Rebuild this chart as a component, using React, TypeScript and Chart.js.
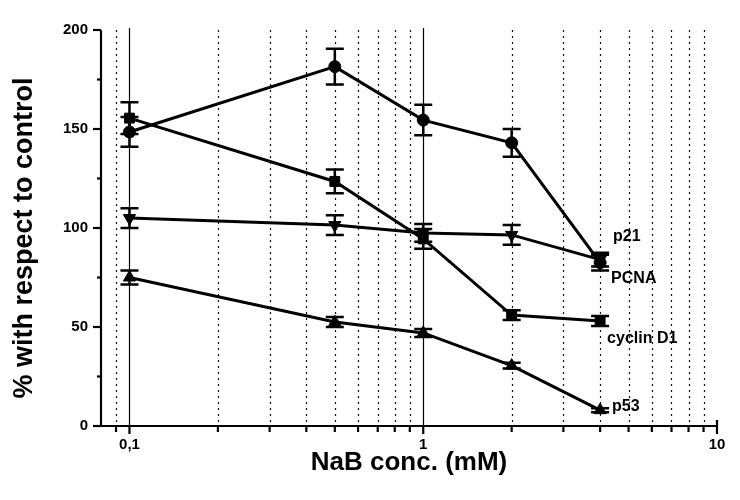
import React, { useEffect, useRef } from 'react';
import { Chart, registerables } from 'chart.js';

Chart.register(...registerables);

// ---- data ----
const concentrations = [0.1, 0.5, 1, 2, 4];

const pcnaValues = [148.5, 181.5, 154.5, 143, 82.5];
const pcnaErrors = [7.5, 9, 7.7, 7, 4];

const p21Values = [105, 101.5, 97.5, 96.5, 84];
const p21Errors = [5, 5, 4.5, 5, 3.5];

const cyclinValues = [155.5, 123.5, 94.5, 56, 53];
const cyclinErrors = [8, 6, 5, 2.5, 2.5];

const p53Values = [75, 52.5, 47, 30.5, 8];
const p53Errors = [3.5, 2.5, 2, 1.5, 1];

const seriesLabels = ['p21', 'PCNA', 'cyclin D1', 'p53'];
const seriesLabelY = [95.5, 74.7, 43.9, 9.6];
const seriesLabelX = 4;

const xTickValues = [0.09, 0.1, 0.2, 0.3, 0.4, 0.5, 0.6, 0.7, 0.8, 0.9, 1, 2, 3, 4, 5, 6, 7, 8, 9, 10];
const xSolidGrid = [0.1, 1];
const xLabelValues = [0.1, 1, 10];
const xLabelTexts = ['0,1', '1', '10'];

const yTickValues = [0, 25, 50, 75, 100, 125, 150, 175, 200];
const yLabelValues = [0, 50, 100, 150, 200];

const FONT = '"Liberation Sans", Arial, Helvetica, sans-serif';

const errorsByDataset = [pcnaErrors, p21Errors, cyclinErrors, p53Errors];

const gridPlugin = {
  id: 'customGrid',
  beforeDatasetsDraw(chart: any) {
    const { ctx, chartArea, scales } = chart;
    const xs = scales.x;
    ctx.save();
    xTickValues.forEach((v) => {
      if (v >= 10) return;
      const px = Math.round(xs.getPixelForValue(v)) + 0.5;
      ctx.beginPath();
      if (xSolidGrid.includes(v)) {
        ctx.setLineDash([]);
        ctx.strokeStyle = '#000';
        ctx.lineWidth = 1.2;
        ctx.moveTo(px, chartArea.top - 2);
      } else {
        ctx.setLineDash([2, 4]);
        ctx.strokeStyle = '#111';
        ctx.lineWidth = 1.2;
        ctx.moveTo(px, chartArea.top);
      }
      ctx.lineTo(px, chartArea.bottom);
      ctx.stroke();
    });
    ctx.restore();
  },
};

const errorBarPlugin = {
  id: 'errorBars',
  afterDatasetsDraw(chart: any) {
    const { ctx, scales } = chart;
    const ys = scales.y;
    ctx.save();
    ctx.strokeStyle = '#000';
    ctx.lineWidth = 2.5;
    chart.data.datasets.forEach((ds: any, i: number) => {
      const meta = chart.getDatasetMeta(i);
      const errs = errorsByDataset[i];
      meta.data.forEach((pt: any, j: number) => {
        const v = ds.data[j].y;
        const e = errs[j];
        const yt = ys.getPixelForValue(v + e);
        const yb = ys.getPixelForValue(v - e);
        const x = pt.x;
        ctx.beginPath();
        ctx.moveTo(x, yt);
        ctx.lineTo(x, yb);
        ctx.moveTo(x - 9, yt);
        ctx.lineTo(x + 9, yt);
        ctx.moveTo(x - 9, yb);
        ctx.lineTo(x + 9, yb);
        ctx.stroke();
      });
    });
    ctx.restore();
  },
};

const decorPlugin = {
  id: 'decor',
  afterDraw(chart: any) {
    const { ctx, chartArea, scales } = chart;
    const xs = scales.x;
    const ys = scales.y;
    ctx.save();
    ctx.strokeStyle = '#000';
    ctx.lineWidth = 2.2;
    // axis lines
    ctx.beginPath();
    ctx.moveTo(chartArea.left, chartArea.top);
    ctx.lineTo(chartArea.left, chartArea.bottom);
    ctx.lineTo(xs.getPixelForValue(10), chartArea.bottom);
    ctx.stroke();
    // x tick marks
    xTickValues.forEach((v) => {
      const px = xs.getPixelForValue(v);
      const major = xLabelValues.includes(v);
      ctx.beginPath();
      ctx.moveTo(px, chartArea.bottom - (v === 10 ? 6 : 0));
      ctx.lineTo(px, chartArea.bottom + (major ? 8 : 6));
      ctx.stroke();
    });
    // y tick marks
    yTickValues.forEach((v) => {
      const py = ys.getPixelForValue(v);
      const major = yLabelValues.includes(v);
      ctx.beginPath();
      ctx.moveTo(chartArea.left - (major ? 8 : 4), py);
      ctx.lineTo(chartArea.left, py);
      ctx.stroke();
    });
    // series labels
    ctx.fillStyle = '#000';
    ctx.font = `bold 16px ${FONT}`;
    ctx.textAlign = 'left';
    ctx.textBaseline = 'middle';
    const lx = xs.getPixelForValue(seriesLabelX);
    const offsets = [13, 11, 7, 12];
    seriesLabels.forEach((t, i) => {
      ctx.fillText(t, lx + offsets[i], ys.getPixelForValue(seriesLabelY[i]));
    });
    // axis titles
    ctx.font = `bold 26px ${FONT}`;
    ctx.textAlign = 'center';
    ctx.fillText('NaB conc. (mM)', (chartArea.left + chartArea.right) / 2, 463);
    ctx.translate(25, 238);
    ctx.rotate(-Math.PI / 2);
    ctx.font = `bold 27px ${FONT}`;
    ctx.fillText('% with respect to control', 0, 0);
    ctx.restore();
  },
};

function makeDataset(values: number[], style: string, radius: number, rotation = 0) {
  return {
    data: concentrations.map((x, i) => ({ x, y: values[i] })),
    borderColor: '#000',
    backgroundColor: '#000',
    borderWidth: 3,
    pointStyle: style,
    pointRadius: radius,
    pointRotation: rotation,
    pointBackgroundColor: '#000',
    pointBorderColor: '#000',
    pointBorderWidth: 1,
    tension: 0,
    fill: false,
  };
}

export default function App() {
  const ref = useRef<HTMLCanvasElement | null>(null);
  useEffect(() => {
    document.body.style.margin = '0';
    if (!ref.current) return;
    const chart = new Chart(ref.current, {
      type: 'line',
      data: {
        datasets: [
          makeDataset(pcnaValues, 'circle', 6),
          makeDataset(p21Values, 'triangle', 7, 180),
          makeDataset(cyclinValues, 'rect', 7),
          makeDataset(p53Values, 'triangle', 7),
        ] as any,
      },
      options: {
        animation: false,
        responsive: false,
        events: [],
        layout: { padding: { left: 0, right: 23, top: 30, bottom: 0 } },
        plugins: { legend: { display: false }, tooltip: { enabled: false } },
        scales: {
          x: {
            type: 'logarithmic',
            min: 0.08,
            max: 10,
            afterBuildTicks: (scale: any) => {
              scale.ticks = xTickValues.map((v) => ({ value: v }));
            },
            afterFit: (scale: any) => {
              scale.height = 74;
            },
            grid: { display: false, drawTicks: false },
            border: { display: false },
            ticks: {
              autoSkip: false,
              maxRotation: 0,
              padding: 10,
              color: '#000',
              font: { family: FONT, size: 15, weight: 'bold' },
              callback: (v: any) => {
                const idx = xLabelValues.findIndex((t) => Math.abs(t - Number(v)) < 1e-9);
                return idx >= 0 ? xLabelTexts[idx] : '';
              },
            },
          },
          y: {
            type: 'linear',
            min: 0,
            max: 200,
            afterBuildTicks: (scale: any) => {
              scale.ticks = yTickValues.map((v) => ({ value: v }));
            },
            afterFit: (scale: any) => {
              scale.width = 101;
            },
            grid: { display: false, drawTicks: false },
            border: { display: false },
            ticks: {
              padding: 13,
              color: '#000',
              font: { family: FONT, size: 15, weight: 'bold' },
              callback: (v: any) => (yLabelValues.includes(Number(v)) ? String(v) : ''),
            },
          },
        },
      },
      plugins: [gridPlugin, errorBarPlugin, decorPlugin],
    });
    return () => chart.destroy();
  }, []);
  return <canvas ref={ref} width={740} height={500} style={{ width: 740, height: 500, display: 'block' }} />;
}
